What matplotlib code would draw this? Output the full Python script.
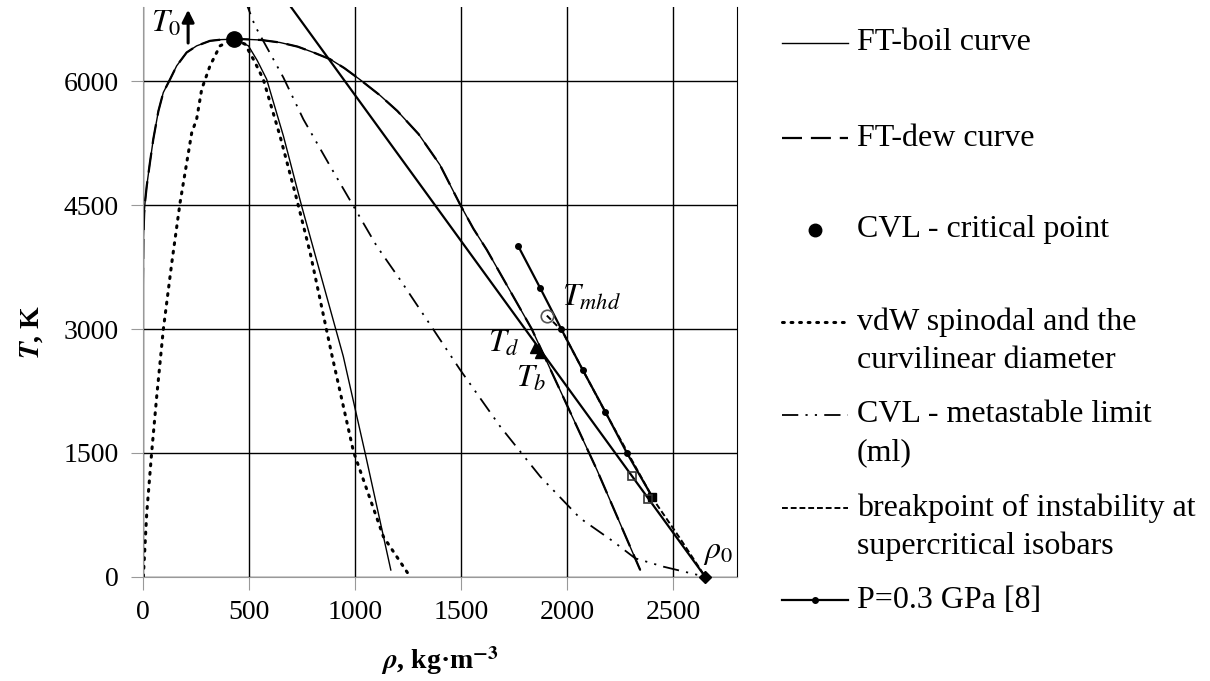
import matplotlib
matplotlib.use("Agg")
import matplotlib.pyplot as plt

plt.rcParams['font.family'] = ['Liberation Serif', 'DejaVu Serif']
plt.rcParams['mathtext.fontset'] = 'stix'

# FT binodal (boil and dew curves coincide in the figure)
boil_rho = [0, 0, 1, 3, 7, 12, 19, 34, 50, 74, 97, 129, 160, 207, 254, 317, 370, 430,
            474, 560, 647, 730, 804, 883, 950, 1024, 1118, 1200, 1300, 1400, 1495,
            1558, 1621, 1833, 2140, 2344]
boil_T = [0, 3000, 3600, 4100, 4400, 4560, 4731, 5014, 5300, 5640, 5864, 6025, 6187,
          6349, 6429, 6490, 6505, 6510,
          6510, 6500, 6470, 6420, 6350, 6268, 6160, 6020, 5830, 5640, 5360, 4990, 4510,
          4215, 3960, 3000, 1294, 81]
dew_rho = boil_rho
dew_T = boil_T

# vdW spinodal
spin_rho = [3, 19, 42, 66, 97, 137, 176, 231, 254, 278, 317, 364, 430,
            482, 525, 568, 647, 726, 789, 890, 993, 1134, 1260]
spin_T = [0, 769, 1497, 2183, 2992, 3801, 4529, 5378, 5540, 5904, 6187, 6429, 6510,
          6450, 6250, 6025, 5337, 4569, 3923, 2700, 1516, 485, 0]

# curvilinear diameter
diam_rho = [430, 498, 540, 584, 663, 749, 836, 945, 1048, 1169]
diam_T = [6510, 6430, 6250, 6025, 5337, 4488, 3680, 2669, 1497, 81]

# CVL metastable limit
ml_rho = [480, 529, 663, 757, 883, 993, 1103, 1212, 1370, 1495, 1684, 1873,
          2061, 2218, 2320, 2454, 2650]
ml_T = [7000, 6672, 6045, 5540, 4973, 4488, 4003, 3600, 2992, 2508, 1820, 1213,
        708, 425, 223, 121, 0]

# straight line T0 -> rho0
line_rho = [0, 2650]
line_T = [9370, 0]
sq_rho = [2305, 2383]
sq_T = [1220, 944]

# breakpoint of instability
brk_rho = [1904, 1975, 2180, 2290, 2410, 2530, 2650]
brk_T = [3163, 2980, 1990, 1480, 920, 470, 0]

# P = 0.3 GPa [8]
p_rho = [1770, 1872, 1972, 2074, 2179, 2281, 2400]
p_T = [4000, 3500, 3000, 2500, 2000, 1500, 970]

crit_rho, crit_T = 430, 6510
rho0 = 2650
tmhd_rho, tmhd_T = 1904, 3163
td_rho, td_T = 1849, 2770
tb_rho, tb_T = 1872, 2710

xticks = [0, 500, 1000, 1500, 2000, 2500]
yticks = [0, 1500, 3000, 4500, 6000]

fig = plt.figure(figsize=(12.1, 6.81), dpi=100)
ax = fig.add_axes([142.7 / 1210, 1 - 576.7 / 681, (737 - 142.7) / 1210, (576.7 - 7) / 681])

ax.plot(boil_rho, boil_T, color='black', lw=1.0)
ax.plot(dew_rho, dew_T, color='black', lw=1.6, dashes=(9, 4))
ax.plot(spin_rho, spin_T, color='black', lw=2.2, linestyle=(0, (0.6, 2.2)), dash_capstyle='round')
ax.plot(diam_rho, diam_T, color='black', lw=1.0)
ax.plot(ml_rho, ml_T, color='black', lw=1.3, linestyle=(0, (9, 4, 1.2, 4, 1.2, 4)))
ax.plot(line_rho, line_T, color='black', lw=1.6)
ax.plot(brk_rho, brk_T, color='black', lw=1.4, dashes=(3, 1.5))
ax.plot(p_rho, p_T, color='black', lw=1.6, marker='o', ms=4)
ax.plot(p_rho[-1:], p_T[-1:], 's', color='black', ms=6)
ax.plot(sq_rho, sq_T, 's', mfc='none', mec='#333333', ms=6, mew=1.2)
ax.plot([td_rho, tb_rho], [td_T, tb_T], '^', color='black', ms=7)
ax.plot(tmhd_rho, tmhd_T, 'o', mfc='none', mec='#555555', ms=9, mew=1.2)
ax.plot(crit_rho, crit_T, 'o', color='black', ms=11, clip_on=False, zorder=5)
ax.plot(rho0, 0, 'D', color='black', ms=6, clip_on=False, zorder=5)

ax.text(40, 6690, r'$T_0$', fontsize=23, ha='left', va='center')
ax.annotate('', xy=(214, 6900), xytext=(214, 6430),
            arrowprops=dict(arrowstyle='-|>', color='black', lw=2.2, mutation_scale=18))
ax.text(1975, 3370, r'$T_{mhd}$', fontsize=23, ha='left', va='center')
ax.text(1700, 2810, r'$T_d$', fontsize=23, ha='center', va='center')
ax.text(1830, 2390, r'$T_b$', fontsize=23, ha='center', va='center')
ax.text(2711, 290, r'$\rho_0$', fontsize=23, ha='center', va='center')

ax.set_xlim(0, 2800)
ax.set_ylim(0, 6900)
ax.set_xticks(xticks)
ax.set_yticks(yticks)
ax.grid(True, color='black', lw=1.0)
ax.tick_params(direction='out', length=9, color='#999999', labelsize=20, pad=8)
for s in ['left', 'bottom']:
    ax.spines[s].set_color('#999999')
ax.spines['top'].set_visible(False)
ax.spines['right'].set_color('black')

ax.set_xlabel(r'$\mathbfit{\rho}$, kg·m$^{\mathbf{-3}}$', fontsize=20, fontweight='bold')
ax.set_ylabel(r'$\mathbfit{T}$, K', fontsize=20, fontweight='bold')
ax.xaxis.set_label_coords(0.5, -0.118)
ax.yaxis.set_label_coords(-0.165, 0.43)

# legend drawn in its own pixel-scaled axes
lax = fig.add_axes([770 / 1210, 0, 440 / 1210, 1])
lax.set_xlim(770, 1210)
lax.set_ylim(681, 0)
lax.axis('off')
h0, h1 = 782, 848
tx = 857
fs = 23
lax.plot([h0, h1], [43, 43], color='black', lw=1.0)
lax.text(tx, 43, 'FT-boil curve', fontsize=fs, va='center')
lax.plot([h0, h1], [138, 138], color='black', lw=1.6, dashes=(9, 4))
lax.text(tx, 138, 'FT-dew curve', fontsize=fs, va='center')
lax.plot([815], [230], 'o', color='black', ms=9)
lax.text(tx, 230, 'CVL - critical point', fontsize=fs, va='center')
lax.plot([h0, h1], [322, 322], color='black', lw=2.2, linestyle=(0, (0.6, 2.2)), dash_capstyle='round')
lax.text(tx, 322, 'vdW spinodal and the', fontsize=fs, va='center')
lax.text(tx, 360, 'curvilinear diameter', fontsize=fs, va='center')
lax.plot([h0, h1], [415, 415], color='black', lw=1.3, linestyle=(0, (9, 4, 1.2, 4, 1.2, 4)))
lax.text(tx, 415, 'CVL - metastable limit', fontsize=fs, va='center')
lax.text(tx, 453, '(ml)', fontsize=fs, va='center')
lax.plot([h0, h1], [508, 508], color='black', lw=1.4, dashes=(3, 1.5))
lax.text(tx, 508, 'breakpoint of instability at', fontsize=fs, va='center')
lax.text(tx, 546, 'supercritical isobars', fontsize=fs, va='center')
lax.plot([h0, h1], [600, 600], color='black', lw=1.6)
lax.plot([815], [600], 'o', color='black', ms=4)
lax.text(tx, 600, 'P=0.3 GPa [8]', fontsize=fs, va='center')

fig.savefig('out.png', dpi=100)
